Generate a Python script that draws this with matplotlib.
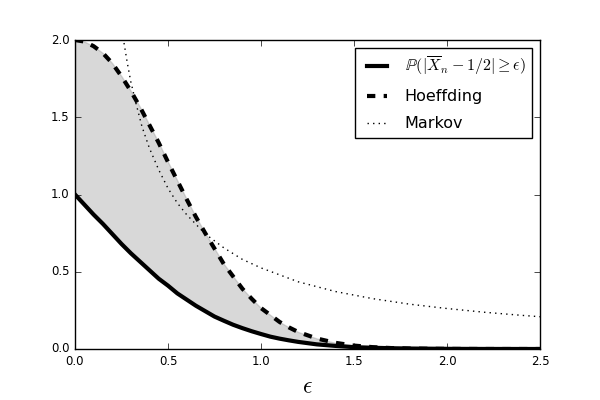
import numpy as np
import matplotlib
matplotlib.use('Agg')
import matplotlib.pyplot as plt

plt.style.use('classic')

# values
eps = [0.0, 0.05, 0.1, 0.15, 0.2, 0.25, 0.3, 0.35, 0.4, 0.45, 0.5, 0.55, 0.6,
       0.65, 0.7, 0.75, 0.8, 0.85, 0.9, 0.95, 1.0, 1.05, 1.1, 1.15, 1.2,
       1.3, 1.4, 1.5, 1.6, 1.7, 1.8, 1.9, 2.0, 2.1, 2.2, 2.3, 2.4, 2.5]
prob = [1.0, 0.935, 0.87, 0.81, 0.745, 0.68, 0.62, 0.565, 0.51, 0.455, 0.41, 0.36, 0.32,
        0.28, 0.245, 0.21, 0.183, 0.157, 0.135, 0.115, 0.097, 0.08, 0.067, 0.056, 0.046,
        0.030, 0.020, 0.012, 0.008, 0.005, 0.003, 0.002, 0.001, 0.0006, 0.0003, 0.0002, 0.0001, 0.0]
hoeffding = [2.0, 1.99, 1.96, 1.915, 1.85, 1.765, 1.67, 1.565, 1.45, 1.335, 1.21, 1.09, 0.97,
             0.855, 0.75, 0.65, 0.55, 0.47, 0.39, 0.325, 0.265, 0.22, 0.175, 0.14, 0.11,
             0.068, 0.040, 0.022, 0.012, 0.006, 0.003, 0.0015, 0.0007, 0.0003, 0.0001, 0.0, 0.0, 0.0]

eps_m = [0.22, 0.25, 0.28, 0.3, 0.33, 0.36, 0.4, 0.45, 0.5, 0.55, 0.6, 0.7, 0.8,
         0.9, 1.0, 1.2, 1.4, 1.6, 1.8, 2.0, 2.2, 2.4, 2.5]
markov = [2.36, 2.08, 1.86, 1.73, 1.58, 1.44, 1.30, 1.16, 1.04, 0.945, 0.87, 0.745, 0.655,
          0.58, 0.525, 0.435, 0.372, 0.326, 0.29, 0.262, 0.238, 0.218, 0.209]

fig = plt.figure(figsize=(6, 4), dpi=100)
ax = fig.add_axes([0.125, 0.1275, 0.775, 0.7725])

ax.fill_between(eps, prob, hoeffding, color='gray', alpha=0.3)
ax.plot(eps, prob, 'k-', lw=3, label=r'$\mathbb{P}(|\overline{X}_n-1/2|\geq\epsilon)$')
ax.plot(eps, hoeffding, 'k--', lw=3, label='Hoeffding')
ax.plot(eps_m, markov, 'k:', lw=1, label='Markov')

ax.set_xlim(0, 2.5)
ax.set_ylim(0, 2)
ax.set_xticks(np.arange(0, 2.51, 0.5))
ax.set_yticks(np.arange(0, 2.01, 0.5))
ax.tick_params(labelsize=8.5)
ax.set_xlabel(r'$\epsilon$', fontsize=17)

ax.legend(loc='upper right', fontsize=11.5, handlelength=1.9, labelspacing=0.75)

fig.savefig('out.png', dpi=100)
